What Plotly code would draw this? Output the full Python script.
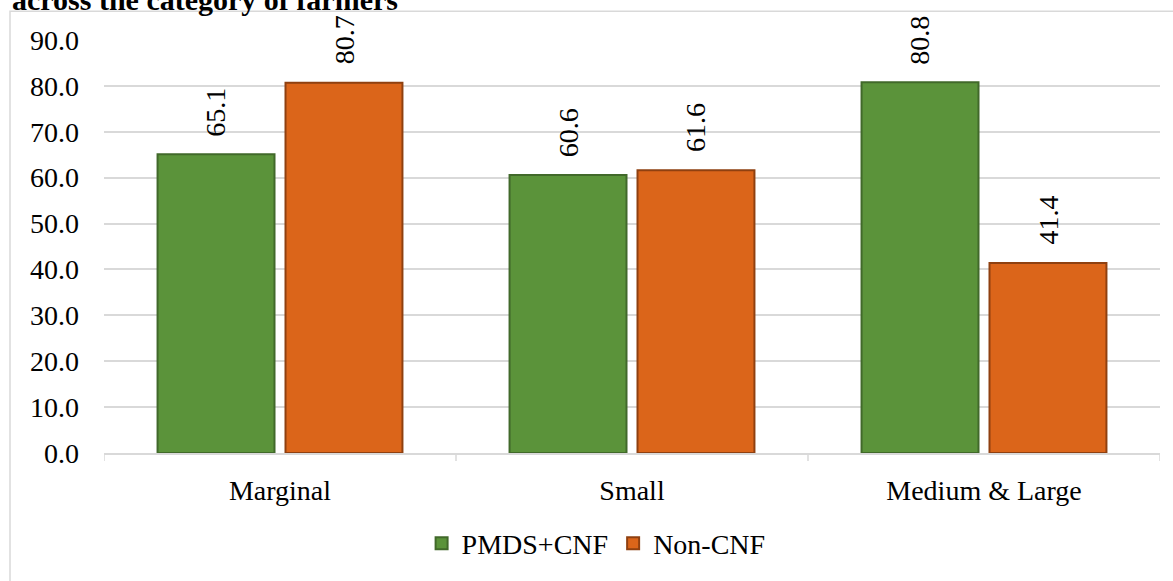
import plotly.graph_objects as go

# Share of farmers by landholding category (%)
categories = ["Marginal", "Small", "Medium & Large"]
pmds_cnf = [65.1, 60.6, 80.8]
non_cnf = [80.7, 61.6, 41.4]
y_ticks = [0, 10, 20, 30, 40, 50, 60, 70, 80, 90]

FONT = "Liberation Serif, Times New Roman, serif"
GRID = "#d9d9d9"
SIZE = 28

x_pos = list(range(len(categories)))

fig = go.Figure()
fig.add_trace(go.Bar(
    name="PMDS+CNF", x=x_pos, y=pmds_cnf,
    marker=dict(color="#5b933a", line=dict(color="#41692a", width=2)),
))
fig.add_trace(go.Bar(
    name="Non-CNF", x=x_pos, y=non_cnf,
    marker=dict(color="#db651a", line=dict(color="#8f4010", width=2)),
))

# value labels, rotated, above each bar
offset = 0.182
for i in x_pos:
    for dx, val in ((-offset, pmds_cnf[i]), (offset, non_cnf[i])):
        fig.add_annotation(
            x=i + dx, y=val, xref="x", yref="y",
            text=f"{val:.1f}", textangle=-90, showarrow=False,
            xanchor="center", yanchor="bottom", yshift=16,
            font=dict(family=FONT, size=SIZE, color="#000000"),
        )

# chart title (partially above the page)
fig.add_annotation(
    x=(10 - 104) / 1056, y=1 + (40 - 17.5) / 416, xref="paper", yref="paper",
    text="<b>across the category of farmers</b>", showarrow=False,
    xanchor="left", yanchor="bottom",
    font=dict(family=FONT, size=30, color="#000000"),
)

# chart area border
fig.add_shape(
    type="rect", xref="paper", yref="paper",
    x0=(10 - 104) / 1056, x1=1.2, y0=-0.6, y1=1 + (40 - 11) / 416,
    line=dict(color=GRID, width=1.5), fillcolor="rgba(0,0,0,0)", layer="below",
)

fig.update_layout(
    width=1173, height=581,
    margin=dict(l=104, r=13, t=40, b=125),
    paper_bgcolor="white", plot_bgcolor="white",
    barmode="group", bargap=0.273, bargroupgap=0.086,
    font=dict(family=FONT, size=SIZE, color="#000000"),
    showlegend=True,
    legend=dict(
        orientation="h", x=0.466, xanchor="center", y=-0.219, yanchor="middle",
        font=dict(family=FONT, size=SIZE, color="#000000"),
        itemwidth=30, traceorder="normal",
    ),
    xaxis=dict(
        range=[-0.5, 2.5],
        tickvals=x_pos, ticktext=categories,
        showgrid=False, showline=True, linecolor=GRID, linewidth=1.5,
        ticks="", zeroline=False,
        ticklabelstandoff=12,
    ),
    yaxis=dict(
        range=[0, 90], tickvals=y_ticks, tickformat=".1f",
        showgrid=True, gridcolor=GRID, gridwidth=1.5,
        zeroline=False, showline=False, ticks="",
        ticklabelstandoff=24,
    ),
)

# category boundary ticks on the x axis
for b in [-0.5, 0.5, 1.5, 2.5]:
    fig.add_shape(
        type="line", xref="x", yref="paper", x0=b, x1=b, y0=0, y1=-8 / 416,
        line=dict(color=GRID, width=1.5),
    )

fig.write_html("out.html")
